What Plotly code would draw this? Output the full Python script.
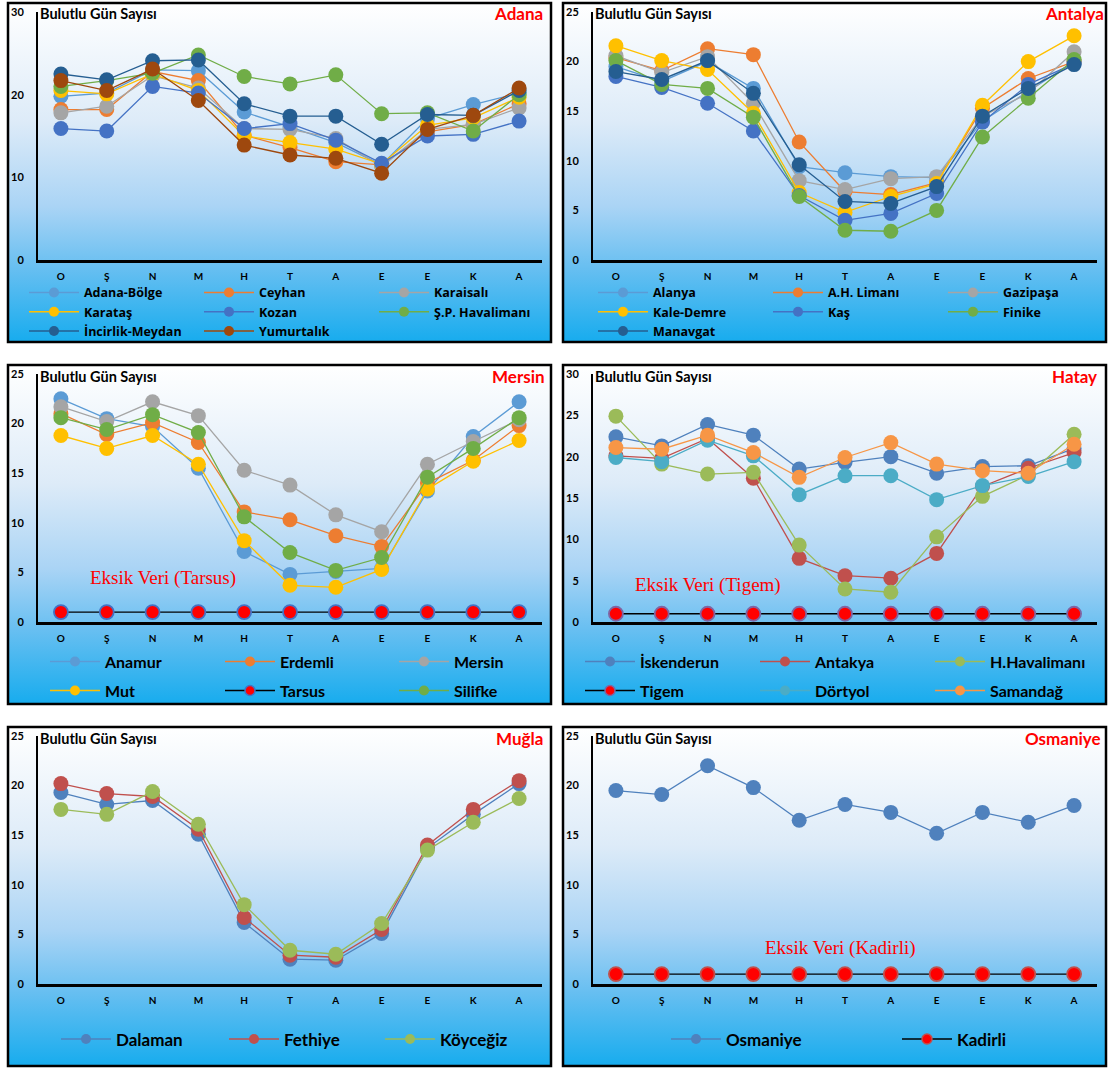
import base64
import plotly.graph_objects as go

# Month initials (Ocak ... Aralık)
months = ["O", "Ş", "N", "M", "H", "T", "A", "E", "E", "K", "A"]

# Adana stations
adana_bolge = [19.8, 20.2, 23.0, 22.9, 17.9, 16.1, 14.2, 11.5, 17.1, 18.8, 20.2]
ceyhan = [18.2, 18.2, 22.8, 21.7, 15.1, 13.6, 11.9, 11.5, 15.5, 16.4, 18.9]
karaisali = [17.8, 18.6, 22.3, 20.8, 15.9, 15.8, 14.7, 11.3, 15.8, 16.4, 18.4]
karatas = [20.5, 20.1, 22.5, 20.5, 15.0, 14.2, 13.4, 11.6, 16.3, 17.2, 19.7]
kozan = [15.9, 15.6, 21.0, 20.2, 15.9, 16.5, 14.5, 11.7, 15.0, 15.2, 16.8]
sp_havalimani = [21.0, 21.7, 22.6, 24.8, 22.2, 21.3, 22.4, 17.7, 17.8, 15.6, 20.0]
incirlik_meydan = [22.5, 21.8, 24.1, 24.2, 18.9, 17.4, 17.4, 14.0, 17.6, 17.5, 20.5]
yumurtalik = [21.7, 20.5, 23.1, 19.3, 13.9, 12.7, 12.3, 10.5, 15.8, 17.5, 20.8]

# Antalya stations
alanya = [19.5, 18.0, 20.0, 17.3, 9.4, 8.8, 8.4, 8.3, 14.0, 17.0, 20.0]
ah_limani = [20.4, 19.1, 21.3, 20.7, 11.9, 6.9, 6.6, 7.8, 15.3, 18.3, 20.0]
gazipasa = [20.6, 18.9, 20.5, 15.8, 8.0, 7.1, 8.2, 8.4, 14.5, 16.8, 21.0]
kale_demre = [21.6, 20.1, 19.2, 14.8, 6.8, 4.8, 6.4, 7.7, 15.6, 20.0, 22.6]
kas = [18.5, 17.4, 15.8, 13.0, 6.5, 4.0, 4.7, 6.7, 13.9, 17.7, 19.8]
finike = [20.1, 17.7, 17.3, 14.4, 6.4, 3.0, 2.9, 5.0, 12.4, 16.3, 20.2]
manavgat = [19.0, 18.2, 20.1, 16.8, 9.6, 5.9, 5.7, 7.4, 14.5, 17.3, 19.7]

# Mersin stations
anamur = [22.5, 20.5, 19.7, 15.5, 7.1, 4.8, 5.1, 5.4, 13.2, 18.7, 22.2]
erdemli = [21.0, 18.9, 20.1, 18.1, 11.1, 10.3, 8.7, 7.6, 14.0, 16.3, 19.8]
mersin = [21.7, 20.2, 22.2, 20.8, 15.3, 13.8, 10.8, 9.1, 15.9, 18.2, 20.4]
mut = [18.8, 17.5, 18.8, 15.9, 8.2, 3.7, 3.5, 5.3, 13.4, 16.2, 18.3]
tarsus = [1, 1, 1, 1, 1, 1, 1, 1, 1, 1, 1]
silifke = [20.6, 19.4, 20.9, 19.1, 10.6, 7.0, 5.2, 6.5, 14.6, 17.5, 20.6]

# Hatay stations
iskenderun = [22.4, 21.3, 23.9, 22.6, 18.5, 19.3, 20.0, 18.0, 18.8, 18.9, 21.0]
antakya = [20.1, 19.8, 22.2, 17.4, 7.7, 5.6, 5.3, 8.3, 16.4, 18.6, 20.5]
h_havalimani = [24.9, 19.1, 17.9, 18.1, 9.3, 4.0, 3.6, 10.3, 15.2, 17.8, 22.7]
tigem = [1, 1, 1, 1, 1, 1, 1, 1, 1, 1, 1]
dortyol = [19.9, 19.4, 22.0, 20.1, 15.4, 17.7, 17.7, 14.8, 16.5, 17.6, 19.4]
samandag = [21.1, 20.9, 22.6, 20.5, 17.5, 19.9, 21.7, 19.1, 18.3, 18.0, 21.5]

# Muğla stations
dalaman = [19.3, 18.1, 18.5, 15.1, 6.2, 2.5, 2.4, 5.1, 13.7, 17.1, 20.2]
fethiye = [20.2, 19.2, 18.9, 15.6, 6.7, 2.9, 2.7, 5.5, 14.0, 17.6, 20.5]
koycegiz = [17.6, 17.1, 19.4, 16.1, 8.0, 3.4, 3.0, 6.1, 13.5, 16.3, 18.7]

# Osmaniye stations
osmaniye = [19.5, 19.1, 22.0, 19.8, 16.5, 18.1, 17.3, 15.2, 17.3, 16.3, 18.0]
kadirli = [1, 1, 1, 1, 1, 1, 1, 1, 1, 1, 1]

W, H = 1111, 1071
PANEL_W, PANEL_H = 543, 339
COL_LEFT = [8, 563]
ROW_TOP = [3, 365, 727]
FONT = "Lato"
SERIF = "Liberation Serif"


def fx(px):
    return px / W


def fy(py):
    return 1 - py / H


# (name, values, line colour, marker colour, marker outline colour)
panels = [
    dict(title="Adana", title_shift=3, col=0, row=0, ymax=30, dtick=10, ncol=3,
         series=[("Adana-Bölge", adana_bolge, "#5B9BD5", "#5B9BD5", None),
                 ("Ceyhan", ceyhan, "#ED7D31", "#ED7D31", None),
                 ("Karaisalı", karaisali, "#A5A5A5", "#A5A5A5", None),
                 ("Karataş", karatas, "#FFC000", "#FFC000", None),
                 ("Kozan", kozan, "#4472C4", "#4472C4", None),
                 ("Ş.P. Havalimanı", sp_havalimani, "#70AD47", "#70AD47", None),
                 ("İncirlik-Meydan", incirlik_meydan, "#255E91", "#255E91", None),
                 ("Yumurtalık", yumurtalik, "#9E480E", "#9E480E", None)],
         leg_x=[24, 199, 374], leg_row0=292.5, leg_font=12.5, leg_family="Open Sans"),
    dict(title="Antalya", title_shift=8.5, col=1, row=0, ymax=25, dtick=5, ncol=3,
         series=[("Alanya", alanya, "#5B9BD5", "#5B9BD5", None),
                 ("A.H. Limanı", ah_limani, "#ED7D31", "#ED7D31", None),
                 ("Gazipaşa", gazipasa, "#A5A5A5", "#A5A5A5", None),
                 ("Kale-Demre", kale_demre, "#FFC000", "#FFC000", None),
                 ("Kaş", kas, "#4472C4", "#4472C4", None),
                 ("Finike", finike, "#70AD47", "#70AD47", None),
                 ("Manavgat", manavgat, "#255E91", "#255E91", None)],
         leg_x=[593, 768, 943], leg_row0=292.5, leg_font=12.5, leg_family="Open Sans"),
    dict(title="Mersin", title_shift=5, col=0, row=1, ymax=25, dtick=5, ncol=3,
         series=[("Anamur", anamur, "#5B9BD5", "#5B9BD5", None),
                 ("Erdemli", erdemli, "#ED7D31", "#ED7D31", None),
                 ("Mersin", mersin, "#A5A5A5", "#A5A5A5", None),
                 ("Mut", mut, "#FFC000", "#FFC000", None),
                 ("Tarsus", tarsus, "#000000", "#FF0000", "#4472C4"),
                 ("Silifke", silifke, "#70AD47", "#70AD47", None)],
         leg_x=[45, 220, 394], leg_row0=661.5, leg_pitch=29, leg_font=16,
         note=("Eksik Veri (Tarsus)", 2.23, 4.45)),
    dict(title="Hatay", title_shift=2, col=1, row=1, ymax=30, dtick=5, ncol=3,
         series=[("İskenderun", iskenderun, "#4F81BD", "#4F81BD", None),
                 ("Antakya", antakya, "#C0504D", "#C0504D", None),
                 ("H.Havalimanı", h_havalimani, "#9BBB59", "#9BBB59", None),
                 ("Tigem", tigem, "#000000", "#FF0000", "#8064A2"),
                 ("Dörtyol", dortyol, "#4BACC6", "#4BACC6", None),
                 ("Samandağ", samandag, "#F79646", "#F79646", None)],
         leg_x=[580, 755, 930], leg_row0=661.5, leg_pitch=29, leg_font=16,
         note=("Eksik Veri (Tigem)", 2.0, 4.45)),
    dict(title="Muğla", title_shift=3, col=0, row=2, ymax=25, dtick=5, ncol=3,
         series=[("Dalaman", dalaman, "#4F81BD", "#4F81BD", None),
                 ("Fethiye", fethiye, "#C0504D", "#C0504D", None),
                 ("Köyceğiz", koycegiz, "#9BBB59", "#9BBB59", None)],
         leg_x=[56, 224, 380], leg_row0=1039, leg_font=17),
    dict(title="Osmaniye", title_shift=6, col=1, row=2, ymax=25, dtick=5, ncol=2,
         series=[("Osmaniye", osmaniye, "#4F81BD", "#4F81BD", None),
                 ("Kadirli", kadirli, "#000000", "#FF0000", "#C0504D")],
         leg_x=[666, 897], leg_row0=1039, leg_font=17,
         note=("Eksik Veri (Kadirli)", 4.9, 3.66)),
]

# Panel background: white at the top fading to sky blue at the bottom
GRAD_STOPS = [(0.0, "#FFFFFF"), (0.35, "#DDEBF8"), (0.6, "#AAD4F5"),
              (0.78, "#68BFF1"), (1.0, "#17ACEE")]
stops_svg = "".join(f'<stop offset="{o}" stop-color="{c}"/>' for o, c in GRAD_STOPS)
svg = (f'<svg xmlns="http://www.w3.org/2000/svg" width="{PANEL_W}" height="{PANEL_H}" '
       f'viewBox="0 0 {PANEL_W} {PANEL_H}" preserveAspectRatio="none">'
       f'<defs><linearGradient id="g" x1="0" y1="0" x2="0" y2="1">{stops_svg}</linearGradient></defs>'
       f'<rect width="{PANEL_W}" height="{PANEL_H}" fill="url(#g)"/></svg>')
bg_uri = "data:image/svg+xml;base64," + base64.b64encode(svg.encode("utf-8")).decode("ascii")

fig = go.Figure()
layout = dict(width=W, height=H, margin=dict(l=0, r=0, t=0, b=0, autoexpand=False),
              paper_bgcolor="white", plot_bgcolor="rgba(0,0,0,0)",
              showlegend=True, images=[], shapes=[], annotations=[])

x_idx = list(range(len(months)))
legend_no = 0

for n, p in enumerate(panels, start=1):
    left = COL_LEFT[p["col"]]
    top = ROW_TOP[p["row"]]
    xa = "x" if n == 1 else f"x{n}"
    ya = "y" if n == 1 else f"y{n}"
    xkey = "xaxis" if n == 1 else f"xaxis{n}"
    ykey = "yaxis" if n == 1 else f"yaxis{n}"

    layout["images"].append(dict(source=bg_uri, xref="paper", yref="paper",
                                 x=fx(left), y=fy(top), sizex=PANEL_W / W, sizey=PANEL_H / H,
                                 xanchor="left", yanchor="top", sizing="stretch", layer="below"))
    layout["shapes"].append(dict(type="rect", xref="paper", yref="paper",
                                 x0=fx(left), x1=fx(left + PANEL_W), y0=fy(top), y1=fy(top + PANEL_H),
                                 line=dict(color="black", width=2.5), fillcolor="rgba(0,0,0,0)"))

    layout[xkey] = dict(domain=[fx(left + 30), fx(left + 534)], anchor=ya,
                        range=[-0.5, len(months) - 0.5], tickmode="array",
                        tickvals=x_idx, ticktext=months, showline=True, linecolor="black",
                        linewidth=2.5, showgrid=False, zeroline=False, ticks="",
                        ticklabelstandoff=5, fixedrange=True, automargin=False,
                        tickfont=dict(family=FONT, size=10, color="black", weight="bold"))
    layout[ykey] = dict(domain=[fy(top + 257), fy(top + 9)], anchor=xa,
                        range=[0, p["ymax"]], tick0=0, dtick=p["dtick"], showline=True,
                        linecolor="black", linewidth=2, showgrid=False, zeroline=False,
                        ticks="", ticklabelstandoff=10, fixedrange=True, automargin=False,
                        tickfont=dict(family=FONT, size=11, color="black", weight="bold"))

    # one vertical legend per legend column
    ncol = p["ncol"]
    fs = p["leg_font"]
    item_h = fs * 1.3 + 3
    gap = max(0, p.get("leg_pitch", item_h) - item_h)
    col_ids = []
    for c in range(ncol):
        legend_no += 1
        lid = "legend" if legend_no == 1 else f"legend{legend_no}"
        col_ids.append(lid)
        layout[lid] = dict(x=fx(p["leg_x"][c]), y=fy(p["leg_row0"] - 5 - item_h / 2),
                           xanchor="left", yanchor="top", orientation="v",
                           bgcolor="rgba(0,0,0,0)", borderwidth=0, itemwidth=50,
                           itemsizing="trace", traceorder="grouped", tracegroupgap=gap,
                           font=dict(family=p.get("leg_family", FONT), size=fs,
                                     color="black", weight="bold"))

    for i, (name, vals, lc, mc, mlc) in enumerate(p["series"]):
        outline = dict(width=0 if mlc is None else 1.8, color=mlc or mc)
        fig.add_trace(go.Scatter(
            x=x_idx, y=vals, mode="lines+markers", name=name, showlegend=False,
            xaxis=xa, yaxis=ya, legendgroup=f"p{n}s{i}",
            line=dict(color=lc, width=1.3),
            marker=dict(size=15 if mlc is None else 14, color=mc, line=outline),
            cliponaxis=False, hoverinfo="skip"))
        # legend key with the smaller symbol used in the key
        fig.add_trace(go.Scatter(
            x=[None], y=[None], mode="lines+markers", name=name, showlegend=True,
            xaxis=xa, yaxis=ya, legend=col_ids[i % ncol], legendgroup=f"p{n}s{i}",
            line=dict(color=lc, width=1.3),
            marker=dict(size=10, color=mc,
                        line=dict(width=0 if mlc is None else 1.5, color=mlc or mc)),
            hoverinfo="skip"))

    dx = f"{xa} domain"
    dy = f"{ya} domain"
    layout["annotations"].append(dict(text="Bulutlu Gün Sayısı", xref=dx, yref=dy, x=0, y=1,
                                      xanchor="left", yanchor="middle", yshift=-2, showarrow=False,
                                      font=dict(family=FONT, size=14.5, color="black", weight="bold")))
    layout["annotations"].append(dict(text=p["title"], xref=dx, yref=dy, x=1, y=1,
                                      xshift=p["title_shift"], xanchor="right", yanchor="middle",
                                      yshift=-2, showarrow=False,
                                      font=dict(family=FONT, size=17, color="#FF0000", weight="bold")))
    if "note" in p:
        txt, nx, ny = p["note"]
        layout["annotations"].append(dict(text=txt, xref=xa, yref=ya, x=nx, y=ny,
                                          showarrow=False,
                                          font=dict(family=SERIF, size=19, color="#FF0000")))

fig.update_layout(**layout)
fig.write_html("out.html")
